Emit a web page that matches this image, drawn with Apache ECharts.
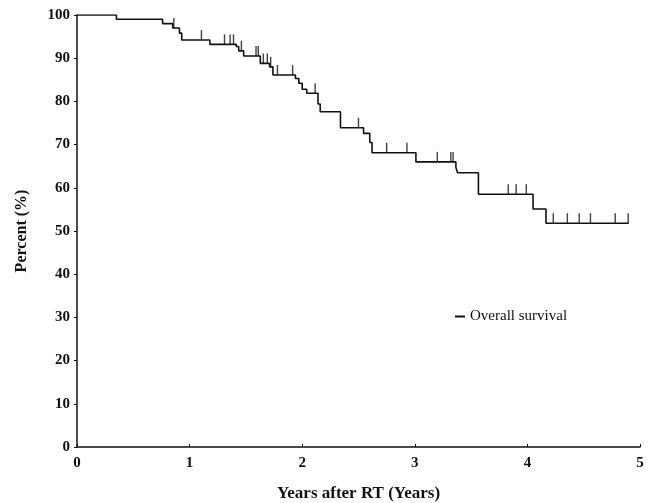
<!DOCTYPE html>
<html>
<head>
<meta charset="utf-8">
<script src="https://cdn.jsdelivr.net/npm/echarts@6/dist/echarts.min.js"></script>
<style>
    html, body {margin: 0; padding: 0; background: #fff;}
    #main {width: 653px; height: 503px;}
</style>
</head>
<body>
<div id="main"></div>
<script>
//event times (years) and survival (%) after each step
var eventTimes = [0, 0.35, 0.76, 0.85, 0.91, 0.93, 1.18, 1.415, 1.436, 1.48, 1.628, 1.71, 1.74,
    1.94, 1.97, 2.00, 2.04, 2.14, 2.16, 2.34, 2.545, 2.60, 2.62, 3.01, 3.365, 3.38, 3.565,
    4.05, 4.165, 4.90];
var survival = [100, 99.0, 98.0, 97.0, 95.8, 94.2, 93.2, 92.7, 91.7, 90.5, 88.8, 88.0, 86.1,
    85.3, 84.2, 82.8, 81.9, 79.4, 77.6, 73.9, 72.6, 70.5, 68.1, 66.0, 64.7, 63.5, 58.5,
    55.1, 51.8, 51.8];
//censored times (years)
var censorTimes = [0.86, 1.105, 1.31, 1.36, 1.39, 1.46, 1.59, 1.61, 1.655, 1.69, 1.72, 1.78, 1.915,
    2.115, 2.50, 2.75, 2.93, 3.20, 3.32, 3.34, 3.83, 3.90, 3.99,
    4.23, 4.355, 4.46, 4.56, 4.78, 4.895];
var xTicks = [0, 1, 2, 3, 4, 5];
var yTicks = [0, 10, 20, 30, 40, 50, 60, 70, 80, 90, 100];

//survival value at time t from the step data
function survAt(t) {
    var s = survival[0];
    for (var i = 0; i < eventTimes.length; i++) {
        if (eventTimes[i] <= t) s = survival[i];
    }
    return s;
}

var curve = [];
for (var i = 0; i < eventTimes.length; i++) {
    curve.push([eventTimes[i], survival[i]]);
}
var censors = [];
for (var j = 0; j < censorTimes.length; j++) {
    censors.push([censorTimes[j], survAt(censorTimes[j])]);
}

var serif = 'Liberation Serif';
var chart = echarts.init(document.getElementById('main'));
var option = {
    backgroundColor: '#fff',
    animation: false,
    grid: {left: 77, right: 13, top: 15, bottom: 56, outerBoundsMode: 'none'},
    legend: {
        left: 450, top: 304,
        itemWidth: 10, itemHeight: 2, itemGap: 5,
        icon: 'rect',
        data: [{name: 'Overall survival', itemStyle: {color: '#111'}}],
        textStyle: {fontFamily: serif, fontSize: 15, color: '#111'}
    },
    xAxis: {
        type: 'value',
        min: 0, max: 5, interval: 1,
        name: 'Years after RT (Years)',
        nameLocation: 'middle',
        nameGap: 38,
        nameTextStyle: {fontFamily: serif, fontSize: 17, fontWeight: 'bold', color: '#111'},
        axisLine: {lineStyle: {color: '#111', width: 1.5}},
        axisTick: {show: true, length: 3, inside: true, lineStyle: {color: '#111'}},
        axisLabel: {
            fontFamily: serif, fontSize: 15, fontWeight: 'bold', color: '#111', margin: 9,
            formatter: function (v) { return xTicks.indexOf(v) >= 0 ? String(v) : ''; }
        },
        splitLine: {show: false}
    },
    yAxis: {
        type: 'value',
        min: 0, max: 100, interval: 10,
        name: 'Percent (%)',
        nameLocation: 'middle',
        nameGap: 47,
        nameRotate: 90,
        nameTextStyle: {fontFamily: serif, fontSize: 16, fontWeight: 'bold', color: '#111'},
        axisLine: {show: true, lineStyle: {color: '#111', width: 1.5}},
        axisTick: {show: true, length: 3, lineStyle: {color: '#111'}},
        axisLabel: {
            fontFamily: serif, fontSize: 15, fontWeight: 'bold', color: '#111', margin: 7,
            formatter: function (v) { return yTicks.indexOf(v) >= 0 ? String(v) : ''; }
        },
        splitLine: {show: false}
    },
    series: [
        {
            name: 'Overall survival',
            type: 'line',
            step: 'end',
            data: curve,
            symbol: 'none',
            lineStyle: {color: '#111', width: 1.6},
            itemStyle: {color: '#111'}
        },
        {
            name: 'censored',
            type: 'scatter',
            data: censors,
            symbol: 'rect',
            symbolSize: [1.4, 10],
            symbolOffset: [0, -5],
            itemStyle: {color: '#111'}
        }
    ]
};
chart.setOption(option);
</script>
</body>
</html>
